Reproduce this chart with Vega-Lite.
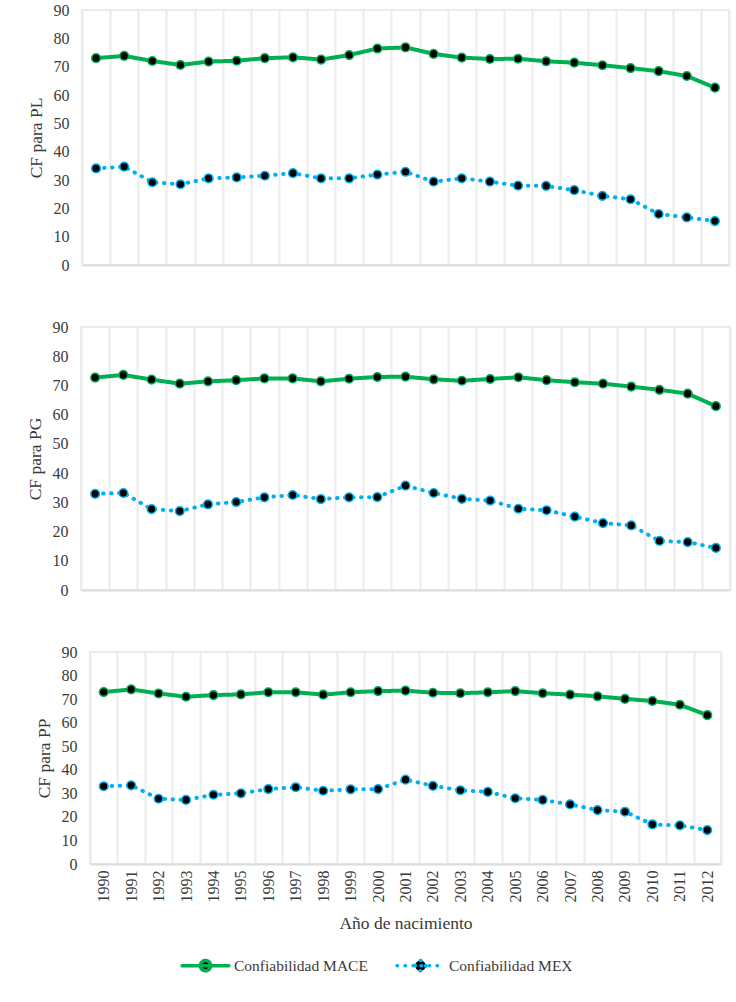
{
  "$schema": "https://vega.github.io/schema/vega-lite/v6.json",
  "padding": {"left": 25, "top": 1, "right": 5, "bottom": 5},
  "background": "white",
  "config": {
    "font": "Liberation Serif",
    "view": {"stroke": "#ebebeb", "strokeWidth": 2},
    "axis": {
      "labelFont": "Liberation Serif",
      "titleFont": "Liberation Serif",
      "labelColor": "#3a3a3a",
      "titleColor": "#3a3a3a",
      "labelFontSize": 16,
      "titleFontSize": 17.5,
      "titleFontWeight": "normal",
      "ticks": false
    },
    "axisY": {"grid": false, "domain": false, "labelPadding": 13, "titlePadding": 8},
    "axisX": {"grid": true, "gridColor": "#ebebeb", "gridWidth": 2, "domainColor": "#dcdcdc", "domainWidth": 2, "tickBand": "extent"},
    "legend": {"labelFont": "Liberation Serif", "labelFontSize": 15.5, "labelColor": "#3a3a3a"}
  },
  "datasets": {
    "cf": [
      {"rasgo": "PL", "anio": "1990", "Confiabilidad MACE": 73.0, "Confiabilidad MEX": 34.1},
      {"rasgo": "PL", "anio": "1991", "Confiabilidad MACE": 73.8, "Confiabilidad MEX": 34.7},
      {"rasgo": "PL", "anio": "1992", "Confiabilidad MACE": 72.0, "Confiabilidad MEX": 29.2},
      {"rasgo": "PL", "anio": "1993", "Confiabilidad MACE": 70.6, "Confiabilidad MEX": 28.5},
      {"rasgo": "PL", "anio": "1994", "Confiabilidad MACE": 71.8, "Confiabilidad MEX": 30.6},
      {"rasgo": "PL", "anio": "1995", "Confiabilidad MACE": 72.1, "Confiabilidad MEX": 30.9},
      {"rasgo": "PL", "anio": "1996", "Confiabilidad MACE": 73.0, "Confiabilidad MEX": 31.5},
      {"rasgo": "PL", "anio": "1997", "Confiabilidad MACE": 73.3, "Confiabilidad MEX": 32.4},
      {"rasgo": "PL", "anio": "1998", "Confiabilidad MACE": 72.5, "Confiabilidad MEX": 30.6},
      {"rasgo": "PL", "anio": "1999", "Confiabilidad MACE": 74.1, "Confiabilidad MEX": 30.6},
      {"rasgo": "PL", "anio": "2000", "Confiabilidad MACE": 76.4, "Confiabilidad MEX": 31.9},
      {"rasgo": "PL", "anio": "2001", "Confiabilidad MACE": 76.8, "Confiabilidad MEX": 32.9},
      {"rasgo": "PL", "anio": "2002", "Confiabilidad MACE": 74.5, "Confiabilidad MEX": 29.4},
      {"rasgo": "PL", "anio": "2003", "Confiabilidad MACE": 73.2, "Confiabilidad MEX": 30.6},
      {"rasgo": "PL", "anio": "2004", "Confiabilidad MACE": 72.7, "Confiabilidad MEX": 29.4},
      {"rasgo": "PL", "anio": "2005", "Confiabilidad MACE": 72.8, "Confiabilidad MEX": 28.0},
      {"rasgo": "PL", "anio": "2006", "Confiabilidad MACE": 71.9, "Confiabilidad MEX": 27.9},
      {"rasgo": "PL", "anio": "2007", "Confiabilidad MACE": 71.4, "Confiabilidad MEX": 26.4},
      {"rasgo": "PL", "anio": "2008", "Confiabilidad MACE": 70.5, "Confiabilidad MEX": 24.4},
      {"rasgo": "PL", "anio": "2009", "Confiabilidad MACE": 69.5, "Confiabilidad MEX": 23.2},
      {"rasgo": "PL", "anio": "2010", "Confiabilidad MACE": 68.4, "Confiabilidad MEX": 18.0},
      {"rasgo": "PL", "anio": "2011", "Confiabilidad MACE": 66.7, "Confiabilidad MEX": 16.8},
      {"rasgo": "PL", "anio": "2012", "Confiabilidad MACE": 62.6, "Confiabilidad MEX": 15.5},
      {"rasgo": "PG", "anio": "1990", "Confiabilidad MACE": 72.7, "Confiabilidad MEX": 32.9},
      {"rasgo": "PG", "anio": "1991", "Confiabilidad MACE": 73.6, "Confiabilidad MEX": 33.2},
      {"rasgo": "PG", "anio": "1992", "Confiabilidad MACE": 72.0, "Confiabilidad MEX": 27.7},
      {"rasgo": "PG", "anio": "1993", "Confiabilidad MACE": 70.6, "Confiabilidad MEX": 27.0},
      {"rasgo": "PG", "anio": "1994", "Confiabilidad MACE": 71.4, "Confiabilidad MEX": 29.3},
      {"rasgo": "PG", "anio": "1995", "Confiabilidad MACE": 71.8, "Confiabilidad MEX": 30.1},
      {"rasgo": "PG", "anio": "1996", "Confiabilidad MACE": 72.4, "Confiabilidad MEX": 31.7},
      {"rasgo": "PG", "anio": "1997", "Confiabilidad MACE": 72.4, "Confiabilidad MEX": 32.5},
      {"rasgo": "PG", "anio": "1998", "Confiabilidad MACE": 71.4, "Confiabilidad MEX": 31.1},
      {"rasgo": "PG", "anio": "1999", "Confiabilidad MACE": 72.3, "Confiabilidad MEX": 31.7},
      {"rasgo": "PG", "anio": "2000", "Confiabilidad MACE": 72.9, "Confiabilidad MEX": 31.8},
      {"rasgo": "PG", "anio": "2001", "Confiabilidad MACE": 73.0, "Confiabilidad MEX": 35.7},
      {"rasgo": "PG", "anio": "2002", "Confiabilidad MACE": 72.1, "Confiabilidad MEX": 33.2},
      {"rasgo": "PG", "anio": "2003", "Confiabilidad MACE": 71.6, "Confiabilidad MEX": 31.2},
      {"rasgo": "PG", "anio": "2004", "Confiabilidad MACE": 72.2, "Confiabilidad MEX": 30.6},
      {"rasgo": "PG", "anio": "2005", "Confiabilidad MACE": 72.8, "Confiabilidad MEX": 27.8},
      {"rasgo": "PG", "anio": "2006", "Confiabilidad MACE": 71.8, "Confiabilidad MEX": 27.3},
      {"rasgo": "PG", "anio": "2007", "Confiabilidad MACE": 71.1, "Confiabilidad MEX": 25.1},
      {"rasgo": "PG", "anio": "2008", "Confiabilidad MACE": 70.6, "Confiabilidad MEX": 22.9},
      {"rasgo": "PG", "anio": "2009", "Confiabilidad MACE": 69.6, "Confiabilidad MEX": 22.1},
      {"rasgo": "PG", "anio": "2010", "Confiabilidad MACE": 68.5, "Confiabilidad MEX": 16.8},
      {"rasgo": "PG", "anio": "2011", "Confiabilidad MACE": 67.2, "Confiabilidad MEX": 16.4},
      {"rasgo": "PG", "anio": "2012", "Confiabilidad MACE": 62.9, "Confiabilidad MEX": 14.4},
      {"rasgo": "PP", "anio": "1990", "Confiabilidad MACE": 73.0, "Confiabilidad MEX": 33.0},
      {"rasgo": "PP", "anio": "1991", "Confiabilidad MACE": 74.1, "Confiabilidad MEX": 33.4},
      {"rasgo": "PP", "anio": "1992", "Confiabilidad MACE": 72.4, "Confiabilidad MEX": 27.7},
      {"rasgo": "PP", "anio": "1993", "Confiabilidad MACE": 71.0, "Confiabilidad MEX": 27.2},
      {"rasgo": "PP", "anio": "1994", "Confiabilidad MACE": 71.7, "Confiabilidad MEX": 29.4},
      {"rasgo": "PP", "anio": "1995", "Confiabilidad MACE": 72.0, "Confiabilidad MEX": 30.0},
      {"rasgo": "PP", "anio": "1996", "Confiabilidad MACE": 72.9, "Confiabilidad MEX": 31.8},
      {"rasgo": "PP", "anio": "1997", "Confiabilidad MACE": 72.9, "Confiabilidad MEX": 32.6},
      {"rasgo": "PP", "anio": "1998", "Confiabilidad MACE": 71.9, "Confiabilidad MEX": 31.1},
      {"rasgo": "PP", "anio": "1999", "Confiabilidad MACE": 72.9, "Confiabilidad MEX": 31.7},
      {"rasgo": "PP", "anio": "2000", "Confiabilidad MACE": 73.4, "Confiabilidad MEX": 31.8},
      {"rasgo": "PP", "anio": "2001", "Confiabilidad MACE": 73.6, "Confiabilidad MEX": 35.8},
      {"rasgo": "PP", "anio": "2002", "Confiabilidad MACE": 72.7, "Confiabilidad MEX": 33.2},
      {"rasgo": "PP", "anio": "2003", "Confiabilidad MACE": 72.5, "Confiabilidad MEX": 31.3},
      {"rasgo": "PP", "anio": "2004", "Confiabilidad MACE": 72.9, "Confiabilidad MEX": 30.6},
      {"rasgo": "PP", "anio": "2005", "Confiabilidad MACE": 73.4, "Confiabilidad MEX": 27.9},
      {"rasgo": "PP", "anio": "2006", "Confiabilidad MACE": 72.5, "Confiabilidad MEX": 27.2},
      {"rasgo": "PP", "anio": "2007", "Confiabilidad MACE": 71.9, "Confiabilidad MEX": 25.3},
      {"rasgo": "PP", "anio": "2008", "Confiabilidad MACE": 71.2, "Confiabilidad MEX": 22.9},
      {"rasgo": "PP", "anio": "2009", "Confiabilidad MACE": 70.1, "Confiabilidad MEX": 22.2},
      {"rasgo": "PP", "anio": "2010", "Confiabilidad MACE": 69.2, "Confiabilidad MEX": 16.8},
      {"rasgo": "PP", "anio": "2011", "Confiabilidad MACE": 67.6, "Confiabilidad MEX": 16.4},
      {"rasgo": "PP", "anio": "2012", "Confiabilidad MACE": 63.2, "Confiabilidad MEX": 14.4}
    ]
  },
  "data": {"name": "cf"},
  "transform": [
    {"fold": ["Confiabilidad MACE", "Confiabilidad MEX"], "as": ["serie", "cf"]}
  ],
  "spacing": 44,
  "center": true,
  "vconcat": [
    {
      "width": 647,
      "height": 255,
      "transform": [{"filter": "datum.rasgo === 'PL'"}],
      "encoding": {
        "x": {"field": "anio", "type": "ordinal", "scale": {"type": "band", "paddingInner": 0, "paddingOuter": 0}, "axis": {"labels": false, "title": null}},
        "y": {"field": "cf", "type": "quantitative", "scale": {"domain": [0, 90]}, "axis": {"values": [0, 10, 20, 30, 40, 50, 60, 70, 80, 90], "title": "CF para PL"}}
      },
      "layer": [
        {
          "mark": {"type": "line", "strokeWidth": 4, "strokeCap": "round"},
          "encoding": {
            "stroke": {
              "field": "serie", "type": "nominal",
              "scale": {"domain": ["Confiabilidad MACE", "Confiabilidad MEX"], "range": ["#00b050", "#00b0f0"]},
              "legend": {
                "title": null, "orient": "none", "direction": "horizontal", "columns": 2,
                "legendX": 99, "legendY": 930,
                "symbolType": "M-1,0H1M0.22,0A0.22,0.22,0,1,1,-0.22,0A0.22,0.22,0,1,1,0.22,0",
                "symbolSize": 2200, "symbolStrokeWidth": 3.5, "symbolFillColor": "black",
                "labelOffset": 3, "columnPadding": 22,
                "encode": {"symbols": {"update": {"fill": {"value": "black"}, "fillOpacity": {"value": 1}, "strokeCap": {"value": "round"}}}}
              }
            },
            "strokeDash": {"field": "serie", "type": "nominal", "scale": {"domain": ["Confiabilidad MACE", "Confiabilidad MEX"], "range": [[1, 0], [0.5, 7.5]]}}
          }
        },
        {
          "mark": {"type": "point", "filled": false, "fill": "black", "fillOpacity": 1, "opacity": 1, "size": 75, "strokeWidth": 1.5},
          "encoding": {
            "stroke": {"field": "serie", "type": "nominal"}
          }
        }
      ]
    },
    {
      "width": 649,
      "height": 263,
      "transform": [{"filter": "datum.rasgo === 'PG'"}],
      "encoding": {
        "x": {"field": "anio", "type": "ordinal", "scale": {"type": "band", "paddingInner": 0, "paddingOuter": 0}, "axis": {"labels": false, "title": null}},
        "y": {"field": "cf", "type": "quantitative", "scale": {"domain": [0, 90]}, "axis": {"values": [0, 10, 20, 30, 40, 50, 60, 70, 80, 90], "title": "CF para PG"}}
      },
      "layer": [
        {
          "mark": {"type": "line", "strokeWidth": 4, "strokeCap": "round"},
          "encoding": {
            "stroke": {"field": "serie", "type": "nominal"},
            "strokeDash": {"field": "serie", "type": "nominal"}
          }
        },
        {
          "mark": {"type": "point", "filled": false, "fill": "black", "fillOpacity": 1, "opacity": 1, "size": 75, "strokeWidth": 1.5},
          "encoding": {
            "stroke": {"field": "serie", "type": "nominal"}
          }
        }
      ]
    },
    {
      "width": 631,
      "height": 212,
      "transform": [{"filter": "datum.rasgo === 'PP'"}],
      "encoding": {
        "x": {"field": "anio", "type": "ordinal", "scale": {"type": "band", "paddingInner": 0, "paddingOuter": 0}, "axis": {"labelAngle": -90, "labelPadding": 6, "title": "Año de nacimiento", "titlePadding": 12}},
        "y": {"field": "cf", "type": "quantitative", "scale": {"domain": [0, 90]}, "axis": {"values": [0, 10, 20, 30, 40, 50, 60, 70, 80, 90], "title": "CF para PP"}}
      },
      "layer": [
        {
          "mark": {"type": "line", "strokeWidth": 4, "strokeCap": "round"},
          "encoding": {
            "stroke": {"field": "serie", "type": "nominal"},
            "strokeDash": {"field": "serie", "type": "nominal"}
          }
        },
        {
          "mark": {"type": "point", "filled": false, "fill": "black", "fillOpacity": 1, "opacity": 1, "size": 75, "strokeWidth": 1.5},
          "encoding": {
            "stroke": {"field": "serie", "type": "nominal"}
          }
        }
      ]
    }
  ]
}
